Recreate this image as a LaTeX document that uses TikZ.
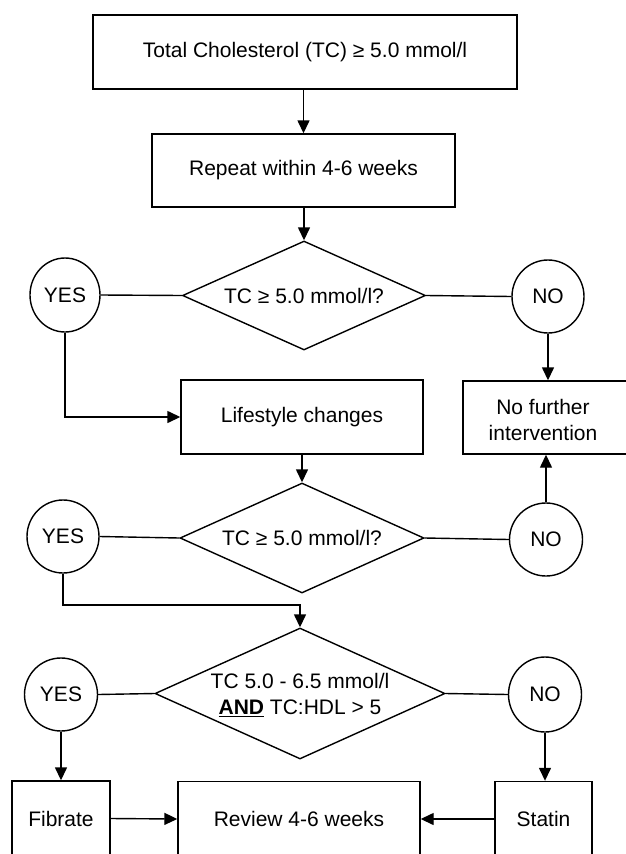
\documentclass[tikz,border=0pt]{standalone}
\usepackage{fontspec}
\setmainfont{Liberation Sans}
\usetikzlibrary{arrows.meta,shapes.geometric}
\tikzset{
  ln/.style={line width=1.4pt, draw=black},
  arr/.style={ln, -{Triangle[length=13pt,width=12pt]}},
  box/.style={ln, rectangle, inner sep=0pt, align=center},
  dia/.style={ln, diamond, inner sep=0pt},
  oval/.style={ln, ellipse, inner sep=0pt},
  txt/.style={inner sep=0pt, align=center},
}
\begin{document}
\begin{tikzpicture}[x=1pt,y=-1pt,font=\fontsize{21}{26}\selectfont]
\useasboundingbox (0,0) rectangle (626,854);
% boxes
\node[box, minimum width=424pt, minimum height=74pt] (top) at (305,52) {Total Cholesterol (TC) ≥ 5.0 mmol/l};
\node[box, minimum width=303pt, minimum height=73pt] (rep) at (303.5,170.5) {Repeat within 4-6 weeks};
\node[box, minimum width=242pt, minimum height=74pt] (life) at (302,417) {Lifestyle changes};
\node[box, minimum width=167pt, minimum height=73pt] (nfi) at (546.5,417.5) {};
\node[txt] (nfit) at (543,420) {No further\\intervention};
\node[box, minimum width=98pt, minimum height=75pt] (fib) at (61,818.5) {Fibrate};
\node[box, minimum width=242pt, minimum height=75pt] (rev) at (299,819) {Review 4-6 weeks};
\node[box, minimum width=97pt, minimum height=75pt] (sta) at (543.5,819) {Statin};
% diamonds
\node[dia, minimum width=243pt, minimum height=109pt] (d1) at (304,295.5) {};
\node[txt] (d1t) at (304,296) {TC ≥ 5.0 mmol/l?};
\node[dia, minimum width=244pt, minimum height=110pt] (d2) at (302,538) {};
\node[txt] (d2t) at (302,538) {TC ≥ 5.0 mmol/l?};
\node[dia, minimum width=290pt, minimum height=131pt] (d3) at (300,693.5) {};
\node[txt] (d3t) at (300,695) {TC 5.0 - 6.5 mmol/l\\\underline{\textbf{AND}} TC:HDL > 5};
% ovals
\node[oval, minimum width=70pt, minimum height=74pt] (y1) at (65,295) {YES};
\node[oval, minimum width=72pt, minimum height=73pt] (n1) at (548,296.5) {NO};
\node[oval, minimum width=72pt, minimum height=73pt] (y2) at (63,536.5) {YES};
\node[oval, minimum width=73pt, minimum height=73pt] (n2) at (546,539.5) {NO};
\node[oval, minimum width=73pt, minimum height=73pt] (y3) at (61,694.5) {YES};
\node[oval, minimum width=73pt, minimum height=75pt] (n3) at (545,694.5) {NO};
\coordinate (c1) at (300,605);
% connectors
\draw[arr] (rep.north |- top.south) -- (rep.north);
\draw[arr] (d1.north |- rep.south) -- (d1.north);
\draw[ln] (y1.east) -- (d1.west);
\draw[ln] (d1.east) -- (n1.west);
\draw[arr] (y1.south) |- (life.west);
\draw[arr] (n1.south) -- (n1.south |- nfi.north);
\draw[arr] (d2.north |- life.south) -- (d2.north);
\draw[ln] (y2.east) -- (d2.west);
\draw[ln] (d2.east) -- (n2.west);
\draw[arr] (n2.north) -- (n2.north |- nfi.south);
\draw[arr] (y2.south) |- (c1) -- (d3.north);
\draw[ln] (y3.east) -- (d3.west);
\draw[ln] (d3.east) -- (n3.west);
\draw[arr] (y3.south) -- (y3.south |- fib.north);
\draw[arr] (n3.south) -- (n3.south |- sta.north);
\draw[arr] (fib.east) -- (rev.west);
\draw[arr] (sta.west) -- (rev.east);
\end{tikzpicture}
\end{document}
